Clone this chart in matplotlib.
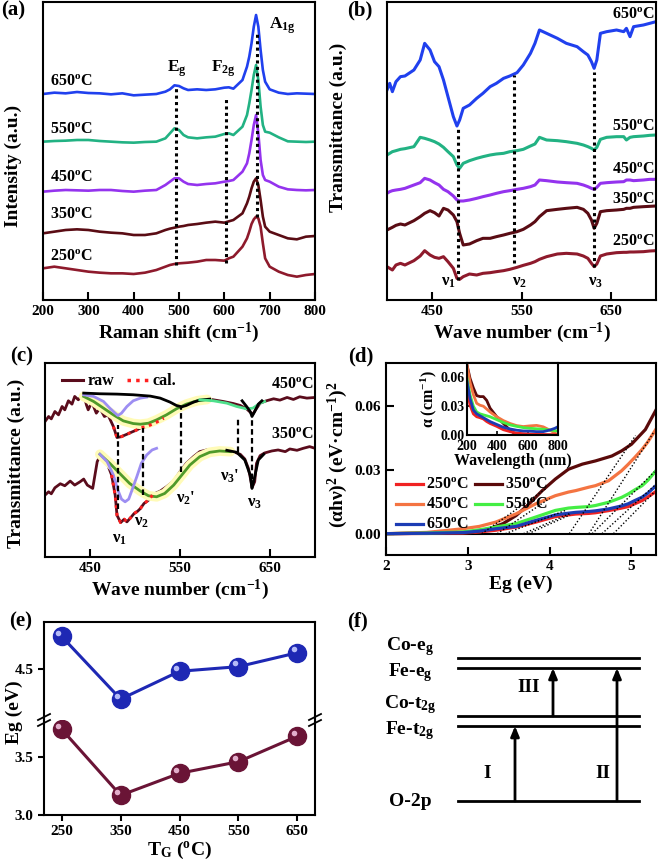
import matplotlib.pyplot as plt
from matplotlib.lines import Line2D
from matplotlib.transforms import offset_copy

plt.rcParams['font.family'] = ['Liberation Serif', 'DejaVu Serif']
plt.rcParams['font.weight'] = 'bold'
plt.rcParams['axes.labelweight'] = 'bold'
plt.rcParams['mathtext.fontset'] = 'custom'
plt.rcParams['mathtext.rm'] = 'Liberation Serif:bold'
plt.rcParams['mathtext.it'] = 'Liberation Serif:italic:bold'
plt.rcParams['mathtext.bf'] = 'Liberation Serif:bold'
plt.rcParams['axes.linewidth'] = 1.5

### data
temps = ['250', '350', '450', '550', '650']
temp_labels = [t + '$^{\\mathrm{o}}$C' for t in temps]

# (a) Raman spectra, stacked (a.u.)
raman_shift = [200, 225, 250, 275, 300, 325, 350, 375, 400, 425, 450, 470, 480, 490, 500, 510, 520, 540,
               560, 580, 600, 610, 620, 640, 650, 655, 660, 665, 670, 675, 680, 685, 690, 700, 720, 740,
               760, 780, 800]
raman_250 = [95, 100, 95, 90, 85, 82, 80, 80, 78, 82, 90, 100, 105, 108, 110, 111, 112, 115, 120, 120, 118,
             125, 130, 160, 185, 205, 228, 242, 250, 245, 220, 170, 125, 100, 85, 75, 70, 75, 78]
raman_350 = [200, 205, 210, 212, 210, 205, 202, 200, 195, 195, 200, 210, 214, 217, 220, 222, 225, 228, 232,
             235, 232, 236, 240, 260, 290, 310, 335, 355, 365, 345, 300, 250, 220, 205, 195, 185, 182, 190, 192]
raman_450 = [325, 328, 330, 329, 328, 330, 330, 327, 325, 328, 330, 345, 355, 365, 365, 355, 348, 345, 348,
             350, 355, 357, 360, 385, 410, 440, 480, 525, 555, 500, 420, 375, 360, 355, 340, 332, 330, 329, 330]
raman_550 = [475, 477, 478, 480, 480, 477, 475, 473, 472, 474, 475, 485, 500, 515, 510, 495, 488, 485, 488,
             490, 498, 500, 495, 520, 555, 590, 630, 675, 705, 660, 580, 525, 505, 502, 488, 476, 475, 474, 475]
raman_650 = [618, 622, 620, 624, 621, 620, 617, 620, 614, 616, 618, 625, 632, 644, 642, 635, 630, 632, 630,
             632, 637, 638, 634, 660, 700, 730, 770, 820, 855, 820, 750, 690, 655, 632, 622, 618, 620, 619, 618]
raman_modes = ['E$_\\mathrm{g}$', 'F$_\\mathrm{2g}$', 'A$_\\mathrm{1g}$']
raman_mode_pos = [493, 604, 671]

# (b) FTIR transmittance, stacked (a.u.)
wave_b = [400, 403, 406, 410, 415, 420, 430, 437, 442, 448, 453, 458, 463, 468, 474, 478, 481, 485, 492, 500,
          507, 515, 522, 530, 537, 545, 552, 560, 565, 570, 578, 590, 600, 612, 619, 624, 628, 631, 634, 638,
          645, 656, 664, 667, 671, 675, 686, 693, 700]
ftir_250 = [100, 95, 90, 105, 110, 105, 118, 132, 148, 135, 128, 125, 130, 115, 95, 65, 62, 70, 78, 75,
            80, 82, 85, 88, 92, 98, 104, 110, 115, 122, 130, 138, 140, 138, 132, 125, 110, 100, 108, 132,
            138, 142, 143, 143, 144, 144, 145, 147, 148]
ftir_350 = [210, 214, 218, 224, 228, 225, 238, 250, 260, 268, 262, 252, 275, 270, 255, 235, 200, 165, 168, 178,
            185, 185, 190, 195, 200, 205, 212, 225, 235, 250, 268, 272, 275, 278, 272, 260, 240, 215, 230, 265,
            268, 270, 272, 275, 275, 278, 280, 281, 282]
ftir_450 = [320, 325, 328, 330, 332, 335, 345, 352, 365, 360, 352, 345, 332, 325, 312, 300, 297, 297, 300, 305,
            310, 315, 320, 325, 328, 332, 335, 340, 345, 360, 358, 354, 352, 350, 345, 340, 335, 332, 338, 350,
            352, 354, 355, 360, 360, 358, 360, 362, 362]
ftir_550 = [435, 440, 445, 448, 452, 454, 460, 488, 485, 480, 475, 468, 458, 445, 430, 405, 395, 410, 418, 425,
            430, 435, 438, 440, 445, 448, 452, 462, 468, 488, 480, 478, 475, 470, 465, 460, 455, 450, 458, 482,
            488, 490, 490, 480, 488, 490, 492, 494, 495]
ftir_650 = [630, 650, 625, 655, 670, 672, 690, 720, 770, 750, 715, 700, 660, 610, 550, 522, 540, 575, 585, 605,
            620, 640, 650, 665, 672, 682, 705, 740, 770, 810, 800, 785, 770, 760, 745, 735, 715, 695, 720, 800,
            805, 810, 805, 815, 790, 820, 825, 830, 835]
ftir_modes = ['ν$_1$', 'ν$_2$', 'ν$_3$']
ftir_mode_pos = [479.5, 542, 631]

# (c) deconvolution of 450 and 350 spectra (a.u.)
raw450_x = [400, 404, 407, 411, 415, 419, 422, 426, 430, 433, 437, 443, 446, 448, 452, 457, 461, 466, 470, 476,
            480, 485, 491, 496, 502, 507, 513, 519, 524, 532, 539, 546, 554, 561, 569, 578, 587, 598, 609, 617,
            624, 628, 631, 634, 639, 646, 654, 661, 669, 676, 683, 691, 700]
raw450_y = [405, 420, 413, 435, 425, 450, 440, 467, 457, 480, 470, 488, 455, 440, 463, 430, 445, 420, 425, 390,
            357, 360, 367, 373, 380, 387, 390, 397, 403, 415, 430, 443, 455, 467, 473, 473, 470, 465, 459, 453,
            443, 433, 427, 440, 460, 467, 473, 469, 477, 471, 479, 475, 477]
raw350_x = [400, 404, 407, 411, 417, 422, 428, 433, 439, 443, 447, 453, 458, 462, 466, 469, 474, 478, 480, 484,
            488, 491, 495, 499, 503, 506, 510, 515, 520, 528, 535, 543, 550, 557, 565, 572, 581, 591, 602, 609,
            617, 622, 626, 629, 630, 633, 635, 639, 644, 652, 659, 667, 672, 680, 687, 694, 700]
raw350_y = [185, 195, 189, 207, 219, 213, 227, 215, 225, 233, 215, 205, 285, 307, 293, 280, 245, 185, 125, 103,
            113, 105, 117, 130, 137, 145, 160, 170, 187, 197, 210, 227, 255, 280, 300, 315, 321, 323, 319, 315,
            307, 293, 265, 225, 207, 225, 280, 303, 311, 317, 320, 315, 323, 319, 325, 330, 325]
fit450_bg_x = [443, 461, 480, 498, 517, 528, 539, 546, 552, 557, 565, 572, 583]
fit450_bg_y = [490, 488, 487, 485, 481, 475, 463, 453, 449, 453, 463, 469, 472]
fit450_v3_x = [619, 624, 628, 630, 633, 637, 641]
fit450_v3_y = [467, 450, 435, 420, 435, 457, 467]
fit450_v1_x = [443, 454, 465, 472, 478, 481, 485, 491, 498, 506, 513]
fit450_v1_y = [485, 480, 465, 445, 430, 423, 430, 450, 467, 475, 478]
fit450_v2_x = [443, 454, 465, 476, 487, 498, 506, 515, 524, 535, 546, 557, 569, 580]
fit450_v2_y = [480, 465, 445, 425, 407, 399, 397, 400, 410, 425, 443, 457, 467, 471]
fit450_v3p_x = [572, 587, 602, 613, 624, 631, 639, 644]
fit450_v3p_y = [470, 467, 460, 450, 443, 445, 460, 465]
fit350_v1_x = [461, 469, 476, 481, 485, 489, 493, 496, 502, 507, 513, 519, 524]
fit350_v1_y = [307, 285, 245, 200, 173, 165, 173, 195, 240, 280, 305, 320, 325]
fit350_v2_x = [461, 472, 483, 494, 506, 515, 524, 533, 543, 552, 561, 572, 583, 594, 606]
fit350_v2_y = [307, 280, 250, 220, 197, 183, 180, 190, 215, 245, 275, 300, 313, 317, 315]
fit350_v3_x = [602, 613, 622, 628, 630, 633, 637, 643]
fit350_v3_y = [319, 313, 290, 245, 205, 240, 290, 307]
dec_modes = ['ν$_1$', 'ν$_2$', "ν$_2$'", "ν$_3$'", 'ν$_3$']
dec_mode_pos = [481.5, 508.5, 551, 615, 630]
dec_mode_top = [395, 385, 445, 415, 420]
dec_mode_bot = [145, 185, 255, 315, 205]

# (d) Tauc plot, (alpha h nu)^2
energy_350 = [2.0, 2.5, 2.8, 3.06, 3.26, 3.43, 3.59, 3.75, 3.91, 4.07, 4.23, 4.4, 4.56, 4.76, 4.88, 5.0, 5.17, 5.3]
tauc_350 = [0, 0.0002, 0.0005, 0.0008, 0.0023, 0.0047, 0.0085, 0.014, 0.0202, 0.0256, 0.0302, 0.0326, 0.0341,
            0.0364, 0.0388, 0.0419, 0.0488, 0.058]
energy = [2.0, 2.5, 2.94, 3.14, 3.34, 3.59, 3.83, 4.07, 4.23, 4.32, 4.48, 4.56, 4.72, 4.88, 4.96, 5.04, 5.13, 5.2, 5.3]
tauc_250 = [0, 0.0001, 0.0003, 0.0008, 0.0016, 0.0031, 0.0054, 0.0080, 0.0088, 0.0092, 0.0095, 0.0098, 0.0108,
            0.0120, 0.0127, 0.0140, 0.0155, 0.0172, 0.0198]
tauc_450 = [0, 0.0006, 0.0023, 0.0034, 0.0054, 0.0093, 0.014, 0.0178, 0.0195, 0.0202, 0.0218, 0.0225, 0.0248,
            0.0295, 0.0325, 0.0357, 0.0395, 0.043, 0.049]
tauc_550 = [0, 0.0003, 0.0008, 0.0018, 0.0031, 0.0047, 0.0078, 0.0109, 0.0120, 0.0123, 0.0127, 0.0132, 0.0147,
            0.0170, 0.0186, 0.0205, 0.0225, 0.025, 0.0295]
tauc_650 = [0, 0.0002, 0.0005, 0.0012, 0.0023, 0.0034, 0.0062, 0.0088, 0.0096, 0.0100, 0.0104, 0.0107, 0.0116,
            0.0130, 0.0140, 0.0155, 0.0171, 0.019, 0.0225]
tan_low_end_x = [4.25, 3.95, 4.0, 4.2, 4.25]
tan_low_end_y = [0.0088, 0.021, 0.0165, 0.011, 0.0095]
tan_high_end_x = [5.28, 5.05, 5.28, 5.28, 5.28]
tan_high_end_y = [0.0195, 0.046, 0.048, 0.029, 0.0225]

# (d) inset absorption
wavelength = [200, 220, 242, 264, 286, 308, 330, 352, 396, 440, 484, 527, 571, 615, 659, 703, 747, 780, 800]
alpha_250 = [0.049, 0.031, 0.022, 0.019, 0.018, 0.0167, 0.014, 0.012, 0.009, 0.0055, 0.0035, 0.002, 0.0014,
             0.001, 0.0007, 0.0005, 0.0003, 0.0002, 0.0]
alpha_350 = [0.073, 0.059, 0.049, 0.041, 0.040, 0.040, 0.036, 0.028, 0.019, 0.012, 0.005, 0.0, 0.0, 0.0, 0.0,
             0.0, 0.0, 0.0, 0.0]
alpha_450 = [0.073, 0.055, 0.042, 0.033, 0.031, 0.030, 0.027, 0.024, 0.019, 0.015, 0.012, 0.0098, 0.0088,
             0.0095, 0.010, 0.0085, 0.005, 0.002, 0.0]
alpha_550 = [0.059, 0.042, 0.030, 0.024, 0.022, 0.021, 0.020, 0.019, 0.016, 0.013, 0.0105, 0.009, 0.0077,
             0.007, 0.0065, 0.006, 0.0052, 0.0045, 0.0042]
alpha_650 = [0.056, 0.038, 0.026, 0.022, 0.020, 0.018, 0.016, 0.014, 0.011, 0.008, 0.0063, 0.005, 0.0042,
             0.004, 0.0035, 0.0035, 0.0052, 0.007, 0.0087]

# (e) band gaps
growth_temp = [250, 350, 450, 550, 650]
eg_high = [4.78, 4.24, 4.48, 4.52, 4.64]
eg_low = [3.74, 3.17, 3.36, 3.46, 3.68]

# (f) energy levels (relative units)
level_names = ['O-2p', 'Fe-t$_\\mathrm{2g}$', 'Co-t$_\\mathrm{2g}$', 'Fe-e$_\\mathrm{g}$', 'Co-e$_\\mathrm{g}$']
level_energy = [0, 75, 85, 133, 143]
level_label_y = [-1, 70, 96, 128, 154]
trans_names = ['I', 'II', 'III']
trans_from = [0, 0, 85]
trans_to = [75, 133, 133]
trans_x = [185, 287, 223]

colors_ab = ['#8e1a2c', '#5a0c14', '#9433ee', '#22b283', '#2040ee']
colors_d = ['#f02222', '#5a0a0a', '#f47442', '#44ee44', '#1c3cb4']

### figure
W, H = 661, 866
fig = plt.figure(figsize=(W / 100, H / 100), dpi=100)


def box(x0, y0, x1, y1):
    return [x0 / W, 1 - y1 / H, (x1 - x0) / W, (y1 - y0) / H]


def style(ax):
    ax.tick_params(direction='in', length=6, width=1.5, labelsize=11, top=False, right=False)


# (a)
ax = fig.add_axes(box(43, 2, 315, 300))
spectra_a = [raman_250, raman_350, raman_450, raman_550, raman_650]
for vals, c in zip(spectra_a, colors_ab):
    ax.plot(raman_shift, vals, color=c, lw=1.9)
lab_y_a = [130, 255, 365, 510, 655]
for lab, y in zip(temp_labels, lab_y_a):
    ax.text(215, y, lab, fontsize=11.5, va='center')
mode_top = [640, 610, 800]
mode_bot = [105, 110, 250]
for pos, y0, y1 in zip(raman_mode_pos, mode_bot, mode_top):
    ax.plot([pos, pos], [y0, y1], color='k', lw=2.2, ls=(0, (1, 1.1)))
ax.text(495, 685, raman_modes[0], fontsize=12.5, ha='center')
ax.text(598, 685, raman_modes[1], fontsize=12.5, ha='center')
ax.text(727, 815, raman_modes[2], fontsize=12.5, ha='center')
ax.set_xlim(200, 800)
ax.set_ylim(0, 894)
ax.set_yticks([])
ax.set_xticks([200, 300, 400, 500, 600, 700, 800])
style(ax)
ax.set_xlabel('Raman shift (cm$^{-1}$)', fontsize=14, labelpad=2)
ax.set_ylabel('Intensity (a.u.)', fontsize=14)
ax.yaxis.set_label_coords(-0.077, 0.45)

# (b)
ax = fig.add_axes(box(387, 2, 656, 300))
spectra_b = [ftir_250, ftir_350, ftir_450, ftir_550, ftir_650]
for vals, c in zip(spectra_b, colors_ab):
    ax.plot(wave_b, vals, color=c, lw=2.2)
lab_y_b = [175, 300, 390, 520, 855]
for lab, y in zip(temp_labels, lab_y_b):
    ax.text(698, y, lab, fontsize=11.5, va='center', ha='right')
fb_top = [515, 675, 685]
fb_bot = [60, 110, 100]
for pos, y0, y1 in zip(ftir_mode_pos, fb_bot, fb_top):
    ax.plot([pos, pos], [y0, y1], color='k', lw=2.2, ls=(0, (1, 1.1)))
for lab, pos in zip(ftir_modes, [468, 548, 632]):
    ax.text(pos, 55, lab, fontsize=12, ha='center', va='center')
ax.set_xlim(400, 700)
ax.set_ylim(0, 894)
ax.set_yticks([])
ax.set_xticks([450, 550, 650])
style(ax)
ax.set_xlabel('Wave number (cm$^{-1}$)', fontsize=14, labelpad=2)
ax.set_ylabel('Transmittance (a.u.)', fontsize=14)
ax.yaxis.set_label_coords(-0.149, 0.58)

# (c)
ax = fig.add_axes(box(45, 363, 315, 557))
ax.plot(raw450_x, raw450_y, color='#5a0c1c', lw=2)
ax.plot(raw350_x, raw350_y, color='#5a0c1c', lw=2)
for fx, fy in [(fit450_v2_x, fit450_v2_y), (fit350_v2_x, fit350_v2_y)]:
    ax.plot(fx, fy, color='#fffbb8', lw=7, solid_capstyle='round')
    ax.plot(fx, fy, color='#4f9a2a', lw=2)
ax.plot(fit450_v1_x, fit450_v1_y, color='#9d8ef2', lw=2)
ax.plot(fit350_v1_x, fit350_v1_y, color='#9d8ef2', lw=2)
ax.plot(fit450_bg_x, fit450_bg_y, color='k', lw=2)
ax.plot(fit450_v3p_x, fit450_v3p_y, color='#4ee08c', lw=2)
ax.plot(fit450_v3_x, fit450_v3_y, color='k', lw=2)
ax.plot(fit350_v3_x, fit350_v3_y, color='k', lw=2)
cal450 = [(x, y) for x, y in zip(raw450_x, raw450_y) if 474 <= x <= 535]
cal350 = [(x, y) for x, y in zip(raw350_x, raw350_y) if 474 <= x <= 520]
for seg in [cal450, cal350]:
    ax.plot([p[0] for p in seg], [p[1] for p in seg], color='#ff2020', lw=2.2, ls=(0, (1, 1.5)))
for pos, y0, y1 in zip(dec_mode_pos, dec_mode_bot, dec_mode_top):
    ax.plot([pos, pos], [y0, y1], color='k', lw=1.6, ls=(0, (2.5, 1.5)))
dec_lab_x = [483, 507, 556, 605, 633]
dec_lab_y = [55, 105, 175, 240, 160]
for lab, x, y in zip(dec_modes, dec_lab_x, dec_lab_y):
    ax.text(x, y, lab, fontsize=12, ha='center', va='center')
ax.text(698, 515, temp_labels[2], fontsize=11.5, ha='right', va='center')
ax.text(698, 365, temp_labels[1], fontsize=11.5, ha='right', va='center')
h_raw = Line2D([], [], color='#5a0c1c', lw=2.2)
h_cal = Line2D([], [], color='#ff2020', lw=2.5, ls=(0, (1, 1.5)))
ax.legend([h_raw, h_cal], ['raw', 'cal.'], ncol=2, loc='upper left', bbox_to_anchor=(0.01, 1.02),
          frameon=False, fontsize=11.5, handlelength=1.3, handletextpad=0.3, columnspacing=0.8)
ax.set_xlim(400, 700)
ax.set_ylim(0, 580)
ax.set_yticks([])
ax.set_xticks([450, 550, 650])
style(ax)
ax.set_xlabel('Wave number (cm$^{-1}$)', fontsize=14, labelpad=2)
ax.set_ylabel('Transmittance (a.u.)', fontsize=14)
ax.yaxis.set_label_coords(-0.074, 0.485)

# (d)
ax = fig.add_axes(box(386, 363, 656, 555))
ax.axhline(0, color='k', lw=1.5)
tauc_all = [(energy, tauc_250), (energy_350, tauc_350), (energy, tauc_450), (energy, tauc_550),
            (energy, tauc_650)]
handles = []
for (ex, ey), c in zip(tauc_all, colors_d):
    handles.append(ax.plot(ex, ey, color=c, lw=2.3)[0])
for i in range(5):
    ax.plot([eg_low[i], tan_low_end_x[i]], [0, tan_low_end_y[i]], color='k', lw=1, ls=(0, (1, 1.5)))
    ax.plot([eg_high[i], tan_high_end_x[i]], [0, tan_high_end_y[i]], color='k', lw=1, ls=(0, (1, 1.5)))
order = [0, 2, 4, 1, 3]
ax.legend([handles[i] for i in order], [temp_labels[i] for i in order], ncol=2, loc='upper left',
          bbox_to_anchor=(0.0, 0.455), frameon=False, fontsize=11.5, handlelength=1.7,
          handletextpad=0.2, columnspacing=0.4, labelspacing=0.25, borderaxespad=0.2)
ax.set_xlim(2, 5.3)
ax.set_ylim(-0.01, 0.08)
ax.set_xticks([2, 3, 4, 5])
ax.set_yticks([0.0, 0.03, 0.06])
ax.set_yticklabels(['0.00', '0.03', '0.06'])
style(ax)
ax.set_xlabel('Eg (eV)', fontsize=14, labelpad=2)
ax.set_ylabel('(αhν)$^2$ (eV·cm$^{-1}$)$^2$', fontsize=14)
ax.yaxis.set_label_coords(-0.133, 0.52)

# (d) inset
ins = fig.add_axes(box(467, 363, 558, 435))
for vals, c in zip([alpha_350, alpha_450, alpha_550, alpha_250, alpha_650],
                   [colors_d[1], colors_d[2], colors_d[3], colors_d[0], colors_d[4]]):
    ins.plot(wavelength, vals, color=c, lw=2)
ins.set_xlim(200, 800)
ins.set_ylim(0, 0.075)
ins.set_xticks([200, 400, 600, 800])
ins.set_yticks([0.0, 0.03, 0.06])
ins.set_yticklabels(['0.00', '0.03', '0.06'])
ins.tick_params(direction='in', length=3, width=1.2, labelsize=10, pad=1.5)
ins.tick_params(axis='x', pad=3.5)
ins.set_xlabel('Wavelength (nm)', fontsize=11.5, labelpad=0)
ins.set_ylabel('α (cm$^{-1}$)', fontsize=11.5, labelpad=1)

# (e)
ax_top = fig.add_axes(box(44, 622, 315, 720))
ax_bot = fig.add_axes(box(44, 720, 315, 815))
for a, vals, c, hl in [(ax_top, eg_high, '#1e28b4', '#c8ccff'), (ax_bot, eg_low, '#6a1436', '#f0c0dc')]:
    a.plot(growth_temp, vals, color=c, lw=2.2, marker='o', ms=13, mfc=c, mec=c)
    a.plot(growth_temp, vals, ls='none', marker='o', ms=4, mfc=hl, mec='none', alpha=0.9,
           transform=offset_copy(a.transData, fig=fig, x=-2.5, y=2.5, units='points'))
    a.set_xlim(220, 680)
    a.tick_params(direction='out', length=4, width=1.5, labelsize=11)
ax_top.set_ylim(4.06, 4.905)
ax_top.set_yticks([4.5])
ax_top.spines['bottom'].set_visible(False)
ax_top.tick_params(bottom=False, labelbottom=False)
ax_bot.set_ylim(3.0, 3.82)
ax_bot.set_yticks([3.0, 3.5])
ax_bot.spines['top'].set_visible(False)
ax_bot.set_xticks(growth_temp)
ax_bot.set_xlabel('T$_\\mathrm{G}$ ($^{\\mathrm{o}}$C)', fontsize=14, labelpad=1)
fig.text(14 / W, 1 - 712 / H, 'Eg (eV)', rotation=90, fontsize=14, ha='center', va='center')
for xs in [44, 315]:
    for dy in [-3, 3]:
        fig.add_artist(Line2D([(xs - 6) / W, (xs + 6) / W], [1 - (720 + dy + 3) / H, 1 - (720 + dy - 3) / H],
                              transform=fig.transFigure, color='k', lw=1.3))

# (f)
ax = fig.add_axes(box(330, 600, 661, 866))
ax.set_xlim(0, 331)
ax.set_ylim(-65, 201)
ax.axis('off')
for e in level_energy:
    ax.plot([128, 309], [e, e], color='k', lw=2)
for name, y in zip(level_names, level_label_y):
    ax.text(80, y, name, fontsize=14, ha='center', va='center')
for name, x0, e0, e1 in zip(trans_names, trans_x, trans_from, trans_to):
    ax.annotate('', xy=(x0, e1), xytext=(x0, e0),
                arrowprops=dict(arrowstyle='-|>,head_length=0.6,head_width=0.25', color='k', lw=2,
                                shrinkA=0, shrinkB=0))
ax.text(157, 28, trans_names[0], fontsize=14, ha='center', va='center')
ax.text(273, 28, trans_names[1], fontsize=14, ha='center', va='center')
ax.text(199, 113, trans_names[2], fontsize=14, ha='center', va='center')

# panel letters
for lab, x, y in [('(a)', 13, 10), ('(b)', 360, 10), ('(c)', 22, 356), ('(d)', 361, 356),
                  ('(e)', 21, 621), ('(f)', 358, 621)]:
    fig.text(x / W, 1 - y / H, lab, fontsize=15, ha='center', va='center')

fig.savefig('out.png', dpi=100)
